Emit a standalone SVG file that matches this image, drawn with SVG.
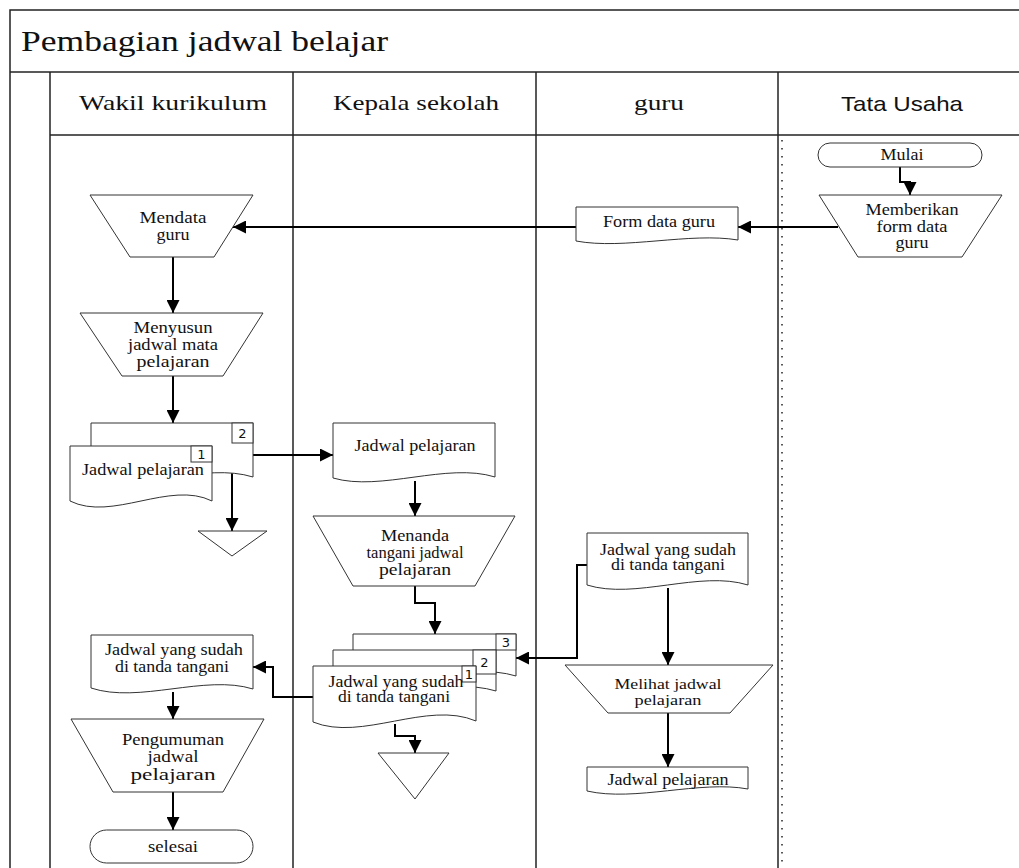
<svg xmlns="http://www.w3.org/2000/svg" width="1019" height="868" viewBox="0 0 1019 868">
<style>
  .pool { fill: none; stroke: #222; stroke-width: 1.5; }
  .shape { fill: #fff; stroke: #333; stroke-width: 1; }
  .conn { fill: none; stroke: #000; stroke-width: 2; }
  .t { font-family: "Liberation Serif", "Times New Roman", serif; font-size: 16px; fill: #111; text-anchor: middle; }
  .hd { font-family: "Liberation Serif", "Times New Roman", serif; font-size: 22px; fill: #111; text-anchor: middle; }
  .hs { font-family: "Liberation Sans", Arial, sans-serif; font-size: 21px; fill: #111; text-anchor: middle; }
  .ttl { font-family: "Liberation Serif", "Times New Roman", serif; font-size: 30px; fill: #111; }
  .num { font-family: "DejaVu Sans", "Liberation Sans", sans-serif; font-size: 13px; fill: #111; text-anchor: middle; }
</style>
<defs>
  <marker id="arr" viewBox="0 0 10 10" refX="10" refY="5" markerWidth="13" markerHeight="13" markerUnits="userSpaceOnUse" orient="auto">
    <path d="M0,0 L10,5 L0,10 z" fill="#000"/>
  </marker>
</defs>
<rect x="0" y="0" width="1019" height="868" fill="#fff"/>

<g id="pool">
  <rect class="pool" x="10" y="10" width="1020" height="870"/>
  <line class="pool" x1="10" y1="72" x2="1019" y2="72"/>
  <line class="pool" x1="50" y1="72" x2="50" y2="868"/>
  <line class="pool" x1="50" y1="135" x2="1019" y2="135"/>
  <line class="pool" x1="293" y1="72" x2="293" y2="868"/>
  <line class="pool" x1="536" y1="72" x2="536" y2="868"/>
  <line class="pool" x1="778" y1="72" x2="778" y2="868"/>
  <line x1="782" y1="140" x2="782" y2="868" stroke="#222" stroke-width="1.5" stroke-dasharray="1.5 6.5"/>
  <text class="ttl" x="21" y="51" textLength="367" lengthAdjust="spacingAndGlyphs">Pembagian jadwal belajar</text>
  <text class="hd" x="173" y="110" textLength="188" lengthAdjust="spacingAndGlyphs">Wakil kurikulum</text>
  <text class="hd" x="416" y="110" textLength="166" lengthAdjust="spacingAndGlyphs">Kepala sekolah</text>
  <text class="hd" x="659" y="110" textLength="50" lengthAdjust="spacingAndGlyphs">guru</text>
  <text class="hs" x="902" y="111" textLength="122" lengthAdjust="spacingAndGlyphs">Tata Usaha</text>
</g>

<g id="connectors">
  <path class="conn" d="M900,167 V182 H910 V195" marker-end="url(#arr)"/>
  <path class="conn" d="M838,227 H738" marker-end="url(#arr)"/>
  <path class="conn" d="M576,227 H233" marker-end="url(#arr)"/>
  <path class="conn" d="M173,257 V313" marker-end="url(#arr)"/>
  <path class="conn" d="M173,376 V423" marker-end="url(#arr)"/>
  <path class="conn" d="M253,455 H333" marker-end="url(#arr)"/>
  <path class="conn" d="M232,472 V531" marker-end="url(#arr)"/>
  <path class="conn" d="M415,481 V516" marker-end="url(#arr)"/>
  <path class="conn" d="M415,586 V603 H435 V634" marker-end="url(#arr)"/>
  <path class="conn" d="M587,565 H577 V658 H516" marker-end="url(#arr)"/>
  <path class="conn" d="M313,697 H273 V667 H253" marker-end="url(#arr)"/>
  <path class="conn" d="M395,724 V736 H415 V753" marker-end="url(#arr)"/>
  <path class="conn" d="M668,588 V665" marker-end="url(#arr)"/>
  <path class="conn" d="M668,713 V767" marker-end="url(#arr)"/>
  <path class="conn" d="M173,692 V719" marker-end="url(#arr)"/>
  <path class="conn" d="M173,792 V830" marker-end="url(#arr)"/>
</g>

<g id="mulai">
  <rect class="shape" x="818" y="143" width="164" height="24" rx="12"/>
  <text class="t" x="902" y="160" textLength="43" lengthAdjust="spacingAndGlyphs">Mulai</text>
</g>

<g id="memberikan">
  <polygon class="shape" points="819,195 1002,195 962,257 858,257"/>
  <text class="t" x="912" y="215" textLength="93" lengthAdjust="spacingAndGlyphs">Memberikan</text>
  <text class="t" x="912" y="232" textLength="71" lengthAdjust="spacingAndGlyphs">form data</text>
  <text class="t" x="912" y="248" textLength="33" lengthAdjust="spacingAndGlyphs">guru</text>
</g>

<g id="form-data-guru">
  <path class="shape" d="M576,207 H738 V240 C690,232 624,250 576,241 Z"/>
  <text class="t" x="659" y="227" textLength="112" lengthAdjust="spacingAndGlyphs">Form data guru</text>
</g>

<g id="mendata">
  <polygon class="shape" points="90,195 253,195 214,257 130,257"/>
  <text class="t" x="173" y="223" textLength="67" lengthAdjust="spacingAndGlyphs">Mendata</text>
  <text class="t" x="173" y="240" textLength="33" lengthAdjust="spacingAndGlyphs">guru</text>
</g>

<g id="menyusun">
  <polygon class="shape" points="80,313 263,313 223,376 122,376"/>
  <text class="t" x="173" y="333" textLength="79" lengthAdjust="spacingAndGlyphs">Menyusun</text>
  <text class="t" x="173" y="350" textLength="90" lengthAdjust="spacingAndGlyphs">jadwal mata</text>
  <text class="t" x="173" y="367" textLength="73" lengthAdjust="spacingAndGlyphs">pelajaran</text>
</g>

<g id="jadwal-pelajaran-wakil">
  <path class="shape" d="M91,423 H253 V477 C205,462 139,492 91,477 Z"/>
  <rect class="shape" x="232" y="423" width="21" height="20"/>
  <text class="num" x="242.5" y="438">2</text>
  <path class="shape" d="M70,446 H212 V501 C170,480 112,522 70,501 Z"/>
  <rect class="shape" x="191" y="446" width="21" height="16"/>
  <text class="num" x="201.5" y="459">1</text>
  <text class="t" x="143" y="475" textLength="122" lengthAdjust="spacingAndGlyphs">Jadwal pelajaran</text>
</g>

<g id="arsip-wakil">
  <polygon class="shape" points="198,531 267,531 232,556"/>
</g>

<g id="jadwal-pelajaran-kepala">
  <path class="shape" d="M333,423 H495 V477 C447,462 381,492 333,478 Z"/>
  <text class="t" x="415" y="451" textLength="121" lengthAdjust="spacingAndGlyphs">Jadwal pelajaran</text>
</g>

<g id="menanda">
  <polygon class="shape" points="313,516 515,516 475,586 353,586"/>
  <text class="t" x="415" y="541" textLength="68" lengthAdjust="spacingAndGlyphs">Menanda</text>
  <text class="t" x="415" y="558" textLength="97" lengthAdjust="spacingAndGlyphs">tangani jadwal</text>
  <text class="t" x="415" y="575" textLength="72" lengthAdjust="spacingAndGlyphs">pelajaran</text>
</g>

<g id="jadwal-ttd-kepala">
  <path class="shape" d="M353,634 H516 V676 C467,661 402,691 353,676 Z"/>
  <rect class="shape" x="496" y="634" width="20" height="16"/>
  <text class="num" x="506" y="647">3</text>
  <path class="shape" d="M333,650 H496 V691 C447,676 382,706 333,691 Z"/>
  <rect class="shape" x="473" y="650" width="23" height="24"/>
  <text class="num" x="484.5" y="667">2</text>
  <path class="shape" d="M313,666 H476 V721 C427,700 362,742 313,722 Z"/>
  <rect class="shape" x="462" y="666" width="14" height="16"/>
  <text class="num" x="469" y="679">1</text>
  <text class="t" x="396" y="687" textLength="135" lengthAdjust="spacingAndGlyphs">Jadwal yang sudah</text>
  <text class="t" x="394" y="702" textLength="112" lengthAdjust="spacingAndGlyphs">di tanda tangani</text>
</g>

<g id="arsip-kepala">
  <polygon class="shape" points="378,753 449,753 415,799"/>
</g>

<g id="jadwal-ttd-guru">
  <path class="shape" d="M587,533 H748 V585 C700,570 635,600 587,585 Z"/>
  <text class="t" x="668" y="555" textLength="136" lengthAdjust="spacingAndGlyphs">Jadwal yang sudah</text>
  <text class="t" x="668" y="570" textLength="114" lengthAdjust="spacingAndGlyphs">di tanda tangani</text>
</g>

<g id="melihat">
  <polygon class="shape" points="565,665 773,665 730,713 608,713"/>
  <text class="t" x="668" y="689" textLength="107" lengthAdjust="spacingAndGlyphs" style="font-size:15px">Melihat jadwal</text>
  <text class="t" x="668" y="705" textLength="67" lengthAdjust="spacingAndGlyphs" style="font-size:15px">pelajaran</text>
</g>

<g id="jadwal-pelajaran-guru">
  <path class="shape" d="M587,767 H748 V789 C700,780 635,802 587,791 Z"/>
  <text class="t" x="668" y="785" textLength="121" lengthAdjust="spacingAndGlyphs">Jadwal pelajaran</text>
</g>

<g id="jadwal-ttd-wakil">
  <path class="shape" d="M91,635 H253 V689 C205,674 139,704 91,688 Z"/>
  <text class="t" x="174" y="655" textLength="138" lengthAdjust="spacingAndGlyphs">Jadwal yang sudah</text>
  <text class="t" x="172" y="672" textLength="114" lengthAdjust="spacingAndGlyphs">di tanda tangani</text>
</g>

<g id="pengumuman">
  <polygon class="shape" points="71,719 264,719 223,792 113,792"/>
  <text class="t" x="173" y="745" textLength="102" lengthAdjust="spacingAndGlyphs" style="font-size:17px">Pengumuman</text>
  <text class="t" x="173" y="762" textLength="51" lengthAdjust="spacingAndGlyphs" style="font-size:17px">jadwal</text>
  <text class="t" x="173" y="780" textLength="85" lengthAdjust="spacingAndGlyphs" style="font-size:17px">pelajaran</text>
</g>

<g id="selesai">
  <rect class="shape" x="90" y="830" width="163" height="33" rx="16.5"/>
  <text class="t" x="173" y="852" textLength="50" lengthAdjust="spacingAndGlyphs">selesai</text>
</g>
</svg>
